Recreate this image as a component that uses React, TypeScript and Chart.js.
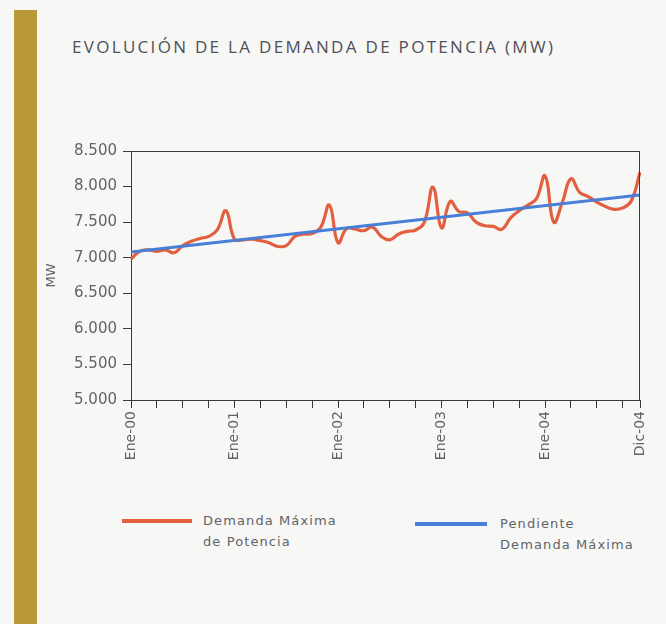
import React, { useEffect, useRef } from 'react';
import { Chart, registerables } from 'chart.js';

Chart.register(...registerables);

// ---- data ----
const MONTHS = ['Ene', 'Feb', 'Mar', 'Abr', 'May', 'Jun', 'Jul', 'Ago', 'Sep', 'Oct', 'Nov', 'Dic'];
const YEARS = ['00', '01', '02', '03', '04'];

const DEMANDA_2000 = [6980, 7090, 7110, 7090, 7110, 7070, 7170, 7230, 7270, 7300, 7390, 7660];
const DEMANDA_2001 = [7260, 7250, 7260, 7240, 7210, 7160, 7170, 7300, 7330, 7340, 7430, 7740];
const DEMANDA_2002 = [7210, 7410, 7400, 7380, 7430, 7300, 7250, 7330, 7370, 7390, 7500, 7990];
const DEMANDA_2003 = [7420, 7790, 7650, 7630, 7500, 7450, 7440, 7400, 7560, 7660, 7740, 7830];
const DEMANDA_2004 = [8150, 7500, 7780, 8110, 7920, 7860, 7780, 7720, 7680, 7700, 7800, 8200];

// trend line endpoints (Ene-00, Dic-04)
const PENDIENTE_INICIO = 7080;
const PENDIENTE_FIN = 7880;

const SHOWN_X_LABELS = ['Ene-00', 'Ene-01', 'Ene-02', 'Ene-03', 'Ene-04', 'Dic-04'];
const Y_MIN = 5000;
const Y_MAX = 8500;
const Y_STEP = 500;

const TITLE = 'EVOLUCIÓN DE LA DEMANDA DE POTENCIA (MW)';
const LEGEND_RED = ['Demanda Máxima', 'de Potencia'];
const LEGEND_BLUE = ['Pendiente', 'Demanda Máxima'];

const RED = '#e2603f';
const BLUE = '#4a7fd8';
const AXIS = '#3a3a3e';
const TEXT = '#62626a';

const labels: string[] = [];
YEARS.forEach((y) => MONTHS.forEach((m) => labels.push(`${m}-${y}`)));
const demanda = [...DEMANDA_2000, ...DEMANDA_2001, ...DEMANDA_2002, ...DEMANDA_2003, ...DEMANDA_2004];
const pendiente: (number | null)[] = labels.map(() => null);
pendiente[0] = PENDIENTE_INICIO;
pendiente[labels.length - 1] = PENDIENTE_FIN;

const fmt = (v: number) => {
  const th = Math.floor(v / 1000);
  const rest = String(Math.round(v % 1000)).padStart(3, '0');
  return `${th}.${rest}`;
};

const framePlugin = {
  id: 'frame',
  afterDatasetsDraw(chart: any) {
    const { ctx, chartArea } = chart;
    const { left, right, top, bottom } = chartArea;
    ctx.save();
    ctx.strokeStyle = AXIS;
    ctx.lineWidth = 1;
    ctx.beginPath();
    ctx.moveTo(left, Math.round(top) + 0.5);
    ctx.lineTo(right, Math.round(top) + 0.5);
    ctx.moveTo(Math.round(right) - 0.5, top);
    ctx.lineTo(Math.round(right) - 0.5, bottom);
    ctx.stroke();
    ctx.restore();
  },
};

export default function App() {
  const ref = useRef<HTMLCanvasElement>(null);

  useEffect(() => {
    if (!ref.current) return;
    const chart = new Chart(ref.current, {
      type: 'line',
      data: {
        labels,
        datasets: [
          {
            label: 'Pendiente Demanda Máxima',
            data: pendiente,
            borderColor: BLUE,
            borderWidth: 3,
            pointRadius: 0,
            spanGaps: true,
            tension: 0,
            order: 1,
          },
          {
            label: 'Demanda Máxima de Potencia',
            data: demanda,
            borderColor: RED,
            borderWidth: 3.2,
            pointRadius: 0,
            tension: 0.45,
            order: 2,
          },
        ],
      },
      options: {
        animation: false,
        responsive: false,
        devicePixelRatio: 1,
        layout: { padding: { left: 40, top: 151, right: 26, bottom: 0 } },
        plugins: { legend: { display: false }, tooltip: { enabled: false } },
        scales: {
          x: {
            type: 'category',
            offset: false,
            grid: {
              drawOnChartArea: false,
              drawTicks: true,
              tickLength: 8,
              tickWidth: 1,
              tickColor: (c: any) =>
                c.index % 3 === 0 || c.index === labels.length - 1 ? AXIS : 'rgba(0,0,0,0)',
            },
            border: { color: AXIS, width: 1 },
            ticks: {
              autoSkip: false,
              minRotation: 90,
              maxRotation: 90,
              padding: 3,
              color: TEXT,
              font: { family: 'DejaVu Sans', size: 14 },
              callback: function (this: any, v: any) {
                const l = this.getLabelForValue(v);
                return SHOWN_X_LABELS.includes(l) ? l : '';
              },
            },
            afterFit(scale: any) {
              scale.height = 80;
            },
          },
          y: {
            min: Y_MIN,
            max: Y_MAX,
            grid: { drawOnChartArea: false, drawTicks: true, tickLength: 8, tickColor: AXIS },
            border: { color: AXIS, width: 1 },
            ticks: {
              stepSize: Y_STEP,
              padding: 6,
              color: TEXT,
              font: { family: 'DejaVu Sans', size: 15 },
              callback: (v: any) => fmt(Number(v)),
            },
            title: {
              display: true,
              text: 'MW',
              color: TEXT,
              font: { family: 'DejaVu Sans', size: 13 },
              padding: { top: 4, bottom: 4 },
            },
            afterFit(scale: any) {
              scale.width = 91;
            },
          },
        },
      },
      plugins: [framePlugin],
    } as any);
    return () => chart.destroy();
  }, []);

  const legendText: React.CSSProperties = {
    position: 'absolute',
    fontFamily: '"DejaVu Sans", sans-serif',
    fontSize: 13,
    lineHeight: '21px',
    letterSpacing: '1.1px',
    color: TEXT,
    whiteSpace: 'nowrap',
  };

  return (
    <div
      style={{
        position: 'fixed',
        left: 0,
        top: 0,
        width: 666,
        height: 624,
        background: '#f7f8f6',
        overflow: 'hidden',
      }}
    >
      <div style={{ position: 'absolute', left: 14, top: 10, width: 23, height: 620, background: '#b9993a' }} />
      <div
        style={{
          position: 'absolute',
          left: 72,
          top: 36,
          fontFamily: '"Open Sans", sans-serif',
          fontSize: 17,
          lineHeight: '22px',
          letterSpacing: '2.3px',
          color: '#505058',
          whiteSpace: 'nowrap',
        }}
      >
        {TITLE}
      </div>
      <canvas ref={ref} width={666} height={480} style={{ position: 'absolute', left: 0, top: 0 }} />
      <div style={{ position: 'absolute', left: 122, top: 519, width: 70, height: 4, background: RED }} />
      <div style={{ ...legendText, left: 203, top: 510 }}>
        {LEGEND_RED[0]}
        <br />
        {LEGEND_RED[1]}
      </div>
      <div style={{ position: 'absolute', left: 415, top: 522, width: 72, height: 4, background: BLUE }} />
      <div style={{ ...legendText, left: 500, top: 513 }}>
        {LEGEND_BLUE[0]}
        <br />
        {LEGEND_BLUE[1]}
      </div>
    </div>
  );
}
